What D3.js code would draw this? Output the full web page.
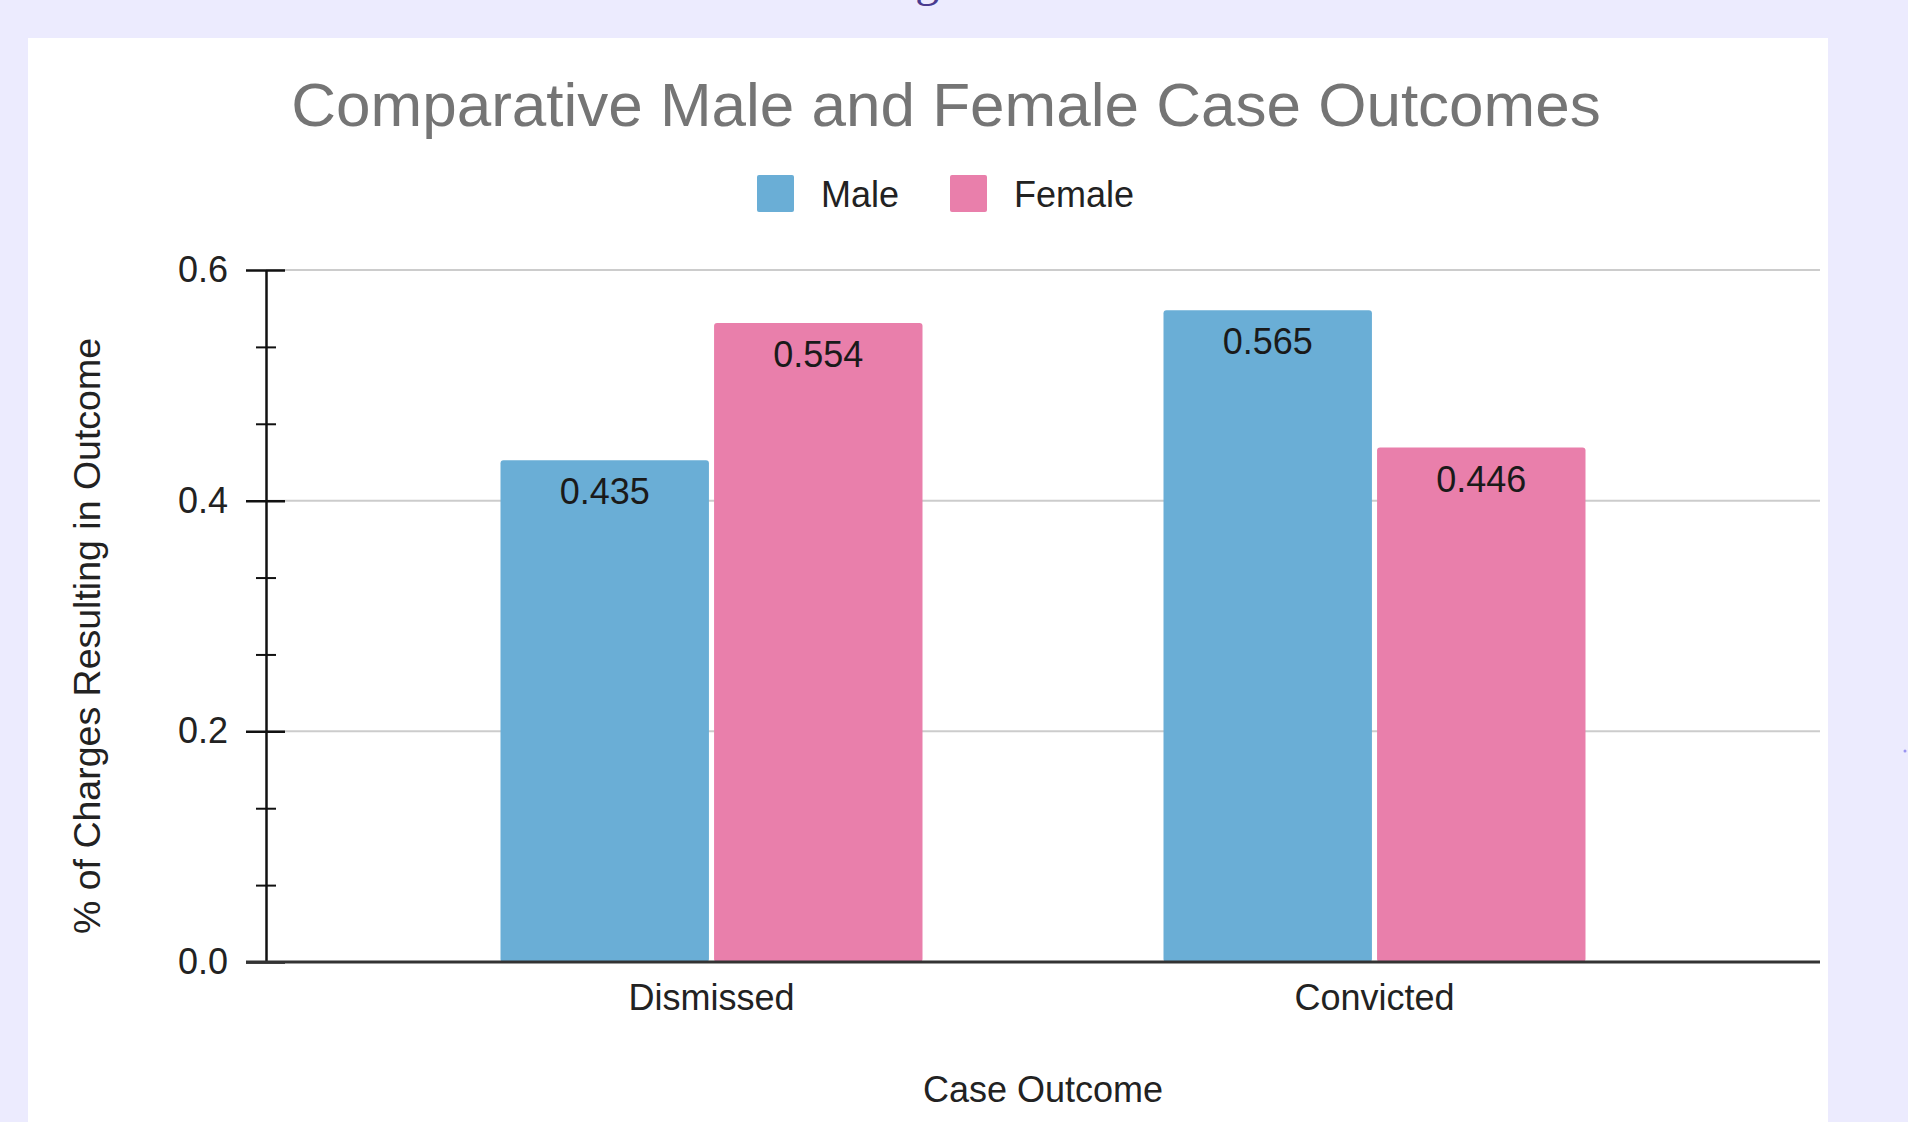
<!DOCTYPE html>
<html lang="en">
<head>
  <meta charset="utf-8">
  <title>Comparative Male and Female Case Outcomes</title>
  <script src="https://cdn.jsdelivr.net/npm/d3@7"></script>
  <style>
    html, body { margin: 0; padding: 0; background: #ecebfe; overflow: hidden; }
    svg { display: block; }
    text { font-family: "Liberation Sans", Arial, sans-serif; }
  </style>
</head>
<body>

<svg id="chart" width="1908" height="1122"></svg>

<script>
// data
var categories = ["Dismissed", "Convicted"];
var seriesNames = ["Male", "Female"];
var maleValues = [0.435, 0.565];
var femaleValues = [0.554, 0.446];
var yTicks = [0, 0.2, 0.4, 0.6];
var yMinorTicks = [0.2 / 3, 0.4 / 3, 0.8 / 3, 1.0 / 3, 1.4 / 3, 1.6 / 3];
var colors = { Male: "#6aaed6", Female: "#e97fab" };

var rows = categories.map(function(c, i) {
  return { category: c, values: [
    { name: "Male", value: maleValues[i] },
    { name: "Female", value: femaleValues[i] }
  ]};
});

var svg = d3.select("#chart");

// clipped page heading above the card (only its descender shows)
svg.append("text")
  .attr("x", 958).attr("y", -4)
  .attr("text-anchor", "end")
  .style("font-family", "'Liberation Serif', 'DejaVu Serif', serif")
  .style("font-size", "48px")
  .attr("fill", "#4a3b8f")
  .text("Findings");

// white card
svg.append("rect")
  .attr("x", 28).attr("y", 38)
  .attr("width", 1800).attr("height", 1122)
  .attr("fill", "#fff");

// little stray dot on the right margin
svg.append("circle")
  .attr("cx", 1905).attr("cy", 751).attr("r", 1.5)
  .attr("fill", "#9a94f0");

var plotLeft = 266, plotRight = 1820, plotTop = 270, plotBottom = 962;

var y = d3.scaleLinear().domain([0, 0.6]).range([plotBottom, plotTop]);

var x0 = d3.scaleBand()
  .domain(categories)
  .range([plotLeft, plotRight])
  .paddingInner(0.3635)
  .paddingOuter(0.3537);

var x1 = d3.scaleBand()
  .domain(seriesNames)
  .range([0, x0.bandwidth()])
  .paddingInner(0.024);

// title
svg.append("text")
  .attr("x", 946).attr("y", 126)
  .attr("text-anchor", "middle")
  .style("font-size", "62px")
  .attr("fill", "#757575")
  .text("Comparative Male and Female Case Outcomes");

// legend
var legendX = [757, 950];
var legend = svg.selectAll(".legend")
  .data(seriesNames)
  .enter().append("g")
  .attr("class", "legend")
  .attr("transform", function(d, i) { return "translate(" + legendX[i] + ",175)"; });

legend.append("rect")
  .attr("width", 37).attr("height", 37).attr("rx", 2)
  .attr("fill", function(d) { return colors[d]; });

legend.append("text")
  .attr("x", 64).attr("y", 32)
  .style("font-size", "36px")
  .attr("fill", "#222")
  .text(function(d) { return d; });

// gridlines
svg.append("g")
  .selectAll("line")
  .data(yTicks.slice(1))
  .enter().append("line")
  .attr("x1", plotLeft).attr("x2", plotRight)
  .attr("y1", function(d) { return y(d); })
  .attr("y2", function(d) { return y(d); })
  .attr("stroke", "#cccccc")
  .attr("stroke-width", 2);

// bars
var groups = svg.append("g")
  .selectAll("g")
  .data(rows)
  .enter().append("g")
  .attr("transform", function(d) { return "translate(" + x0(d.category) + ",0)"; });

groups.selectAll("rect")
  .data(function(d) { return d.values; })
  .enter().append("rect")
  .attr("x", function(d) { return x1(d.name); })
  .attr("y", function(d) { return y(d.value); })
  .attr("width", x1.bandwidth())
  .attr("height", function(d) { return y(0) - y(d.value); })
  .attr("rx", 3)
  .attr("fill", function(d) { return colors[d.name]; });

groups.selectAll("text")
  .data(function(d) { return d.values; })
  .enter().append("text")
  .attr("x", function(d) { return x1(d.name) + x1.bandwidth() / 2; })
  .attr("y", function(d) { return y(d.value) + 44; })
  .attr("text-anchor", "middle")
  .style("font-size", "36px")
  .attr("fill", "#1a1a1a")
  .text(function(d) { return d3.format(".3f")(d.value); });

// y axis, major ticks + labels
var yAxis = svg.append("g")
  .attr("transform", "translate(" + plotLeft + ",0)")
  .call(d3.axisLeft(y)
    .tickValues(yTicks)
    .tickFormat(d3.format(".1f"))
    .tickSizeInner(20)
    .tickSizeOuter(0)
    .tickPadding(18));

yAxis.select(".domain").attr("stroke", "#111").attr("stroke-width", 2.5);
yAxis.selectAll(".tick line").attr("x1", 19).attr("stroke", "#111").attr("stroke-width", 2.5);
yAxis.selectAll(".tick text")
  .style("font-size", "36px")
  .attr("fill", "#222");

// minor ticks
var yMinor = svg.append("g")
  .attr("transform", "translate(" + plotLeft + ",0)")
  .call(d3.axisLeft(y).tickValues(yMinorTicks).tickSize(10).tickFormat(""));
yMinor.select(".domain").remove();
yMinor.selectAll(".tick line").attr("x1", 10).attr("stroke", "#111").attr("stroke-width", 2);

// baseline
svg.append("line")
  .attr("x1", 246).attr("x2", plotRight)
  .attr("y1", y(0)).attr("y2", y(0))
  .attr("stroke", "#333")
  .attr("stroke-width", 3);

// x axis labels
var xAxis = svg.append("g")
  .attr("transform", "translate(0," + plotBottom + ")")
  .call(d3.axisBottom(x0).tickSize(0).tickPadding(22));
xAxis.select(".domain").remove();
xAxis.selectAll(".tick text")
  .style("font-size", "36px")
  .attr("fill", "#222");

// axis titles
svg.append("text")
  .attr("x", (plotLeft + plotRight) / 2).attr("y", 1102)
  .attr("text-anchor", "middle")
  .style("font-size", "36px")
  .attr("fill", "#222")
  .text("Case Outcome");

svg.append("text")
  .attr("transform", "translate(100,636) rotate(-90)")
  .attr("text-anchor", "middle")
  .style("font-size", "37.5px")
  .attr("fill", "#222")
  .text("% of Charges Resulting in Outcome");
</script>

</body>
</html>
